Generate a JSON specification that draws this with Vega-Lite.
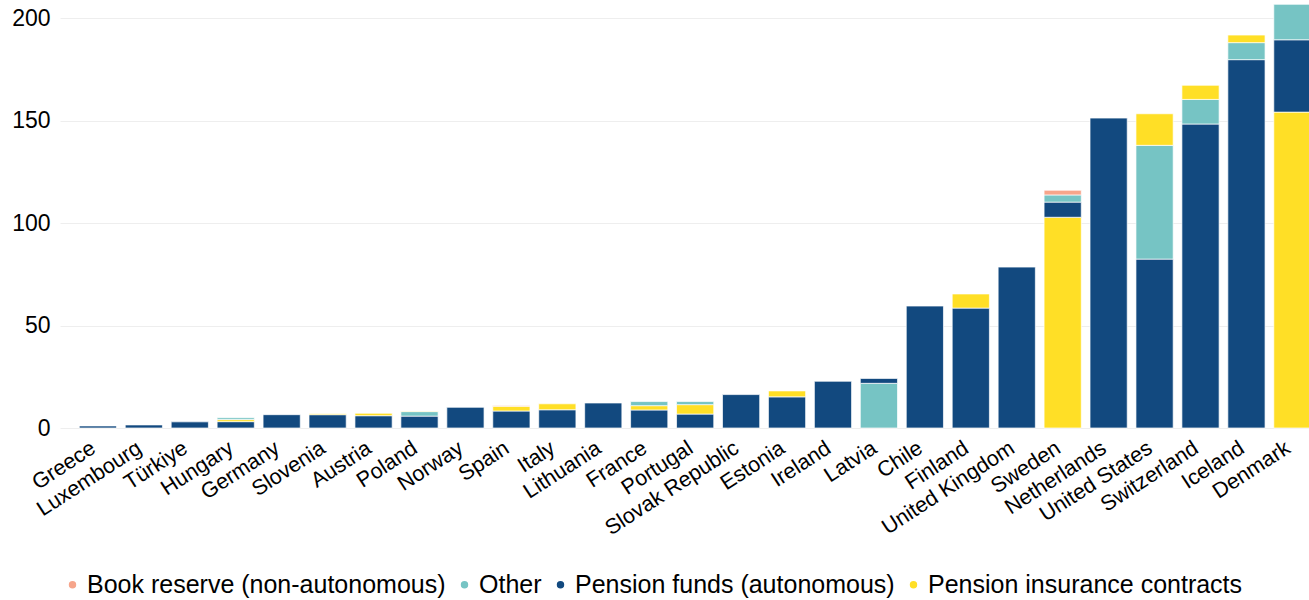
{
  "$schema": "https://vega.github.io/schema/vega-lite/v6.json",
  "width": 1251,
  "height": 428,
  "padding": {"left": 11, "top": 0, "right": 0, "bottom": 0},
  "autosize": {"type": "pad"},
  "data": {
    "values": [
      {"country": "Greece", "type": "Pension funds (autonomous)", "value": 1.0},
      {"country": "Luxembourg", "type": "Pension funds (autonomous)", "value": 1.5},
      {"country": "Türkiye", "type": "Pension funds (autonomous)", "value": 3.0},
      {"country": "Hungary", "type": "Pension funds (autonomous)", "value": 3.1},
      {"country": "Hungary", "type": "Pension insurance contracts", "value": 1.0},
      {"country": "Hungary", "type": "Other", "value": 0.9},
      {"country": "Germany", "type": "Pension funds (autonomous)", "value": 6.5},
      {"country": "Slovenia", "type": "Pension funds (autonomous)", "value": 6.5},
      {"country": "Slovenia", "type": "Pension insurance contracts", "value": 0.5},
      {"country": "Austria", "type": "Pension funds (autonomous)", "value": 6.0},
      {"country": "Austria", "type": "Pension insurance contracts", "value": 1.2},
      {"country": "Poland", "type": "Pension funds (autonomous)", "value": 5.8},
      {"country": "Poland", "type": "Other", "value": 2.2},
      {"country": "Poland", "type": "Pension insurance contracts", "value": 0.3},
      {"country": "Norway", "type": "Pension funds (autonomous)", "value": 10.1},
      {"country": "Spain", "type": "Pension funds (autonomous)", "value": 8.3},
      {"country": "Spain", "type": "Pension insurance contracts", "value": 2.3},
      {"country": "Spain", "type": "Book reserve (non-autonomous)", "value": 0.4},
      {"country": "Italy", "type": "Pension funds (autonomous)", "value": 8.9},
      {"country": "Italy", "type": "Pension insurance contracts", "value": 2.9},
      {"country": "Lithuania", "type": "Pension funds (autonomous)", "value": 12.2},
      {"country": "France", "type": "Pension funds (autonomous)", "value": 8.8},
      {"country": "France", "type": "Pension insurance contracts", "value": 2.1},
      {"country": "France", "type": "Other", "value": 2.0},
      {"country": "Portugal", "type": "Pension funds (autonomous)", "value": 6.8},
      {"country": "Portugal", "type": "Pension insurance contracts", "value": 4.6},
      {"country": "Portugal", "type": "Other", "value": 1.5},
      {"country": "Slovak Republic", "type": "Pension funds (autonomous)", "value": 16.3},
      {"country": "Estonia", "type": "Pension funds (autonomous)", "value": 15.2},
      {"country": "Estonia", "type": "Pension insurance contracts", "value": 2.9},
      {"country": "Ireland", "type": "Pension funds (autonomous)", "value": 22.8},
      {"country": "Latvia", "type": "Other", "value": 21.8},
      {"country": "Latvia", "type": "Pension funds (autonomous)", "value": 2.4},
      {"country": "Chile", "type": "Pension funds (autonomous)", "value": 59.5},
      {"country": "Finland", "type": "Pension funds (autonomous)", "value": 58.5},
      {"country": "Finland", "type": "Pension insurance contracts", "value": 6.9},
      {"country": "United Kingdom", "type": "Pension funds (autonomous)", "value": 78.5},
      {"country": "Sweden", "type": "Pension insurance contracts", "value": 102.8},
      {"country": "Sweden", "type": "Pension funds (autonomous)", "value": 7.4},
      {"country": "Sweden", "type": "Other", "value": 3.5},
      {"country": "Sweden", "type": "Book reserve (non-autonomous)", "value": 2.3},
      {"country": "Netherlands", "type": "Pension funds (autonomous)", "value": 151.2},
      {"country": "United States", "type": "Pension funds (autonomous)", "value": 82.4},
      {"country": "United States", "type": "Other", "value": 55.5},
      {"country": "United States", "type": "Pension insurance contracts", "value": 15.4},
      {"country": "Switzerland", "type": "Pension funds (autonomous)", "value": 148.3},
      {"country": "Switzerland", "type": "Other", "value": 12.0},
      {"country": "Switzerland", "type": "Pension insurance contracts", "value": 6.9},
      {"country": "Iceland", "type": "Pension funds (autonomous)", "value": 179.7},
      {"country": "Iceland", "type": "Other", "value": 8.3},
      {"country": "Iceland", "type": "Pension insurance contracts", "value": 3.7},
      {"country": "Denmark", "type": "Pension insurance contracts", "value": 154.1},
      {"country": "Denmark", "type": "Pension funds (autonomous)", "value": 35.3},
      {"country": "Denmark", "type": "Other", "value": 17.3}
    ]
  },
  "mark": {"type": "bar", "stroke": "white", "strokeWidth": 1, "strokeOpacity": 0.7},
  "encoding": {
    "x": {
      "field": "country",
      "type": "nominal",
      "sort": ["Greece", "Luxembourg", "Türkiye", "Hungary", "Germany", "Slovenia", "Austria", "Poland", "Norway", "Spain", "Italy", "Lithuania", "France", "Portugal", "Slovak Republic", "Estonia", "Ireland", "Latvia", "Chile", "Finland", "United Kingdom", "Sweden", "Netherlands", "United States", "Switzerland", "Iceland", "Denmark"],
      "scale": {"paddingInner": 0.19, "paddingOuter": 0.21, "align": 1},
      "axis": {"title": null, "labelAngle": -33, "labelFontSize": 21.5, "labelColor": "#000000", "ticks": false, "domain": false, "labelPadding": 9, "labelOffset": -10, "labelLimit": 400}
    },
    "y": {
      "field": "value",
      "type": "quantitative",
      "stack": "zero",
      "scale": {"domain": [0, 208.8], "nice": false},
      "axis": {"title": null, "values": [0, 50, 100, 150, 200], "ticks": false, "domain": false, "labelFontSize": 23, "labelPadding": 10, "gridColor": "#eeeeee", "labelColor": "#000000"}
    },
    "color": {
      "field": "type",
      "type": "nominal",
      "scale": {
        "domain": ["Book reserve (non-autonomous)", "Other", "Pension funds (autonomous)", "Pension insurance contracts"],
        "range": ["#F6A58B", "#76C4C4", "#12497F", "#FFDF26"]
      },
      "legend": {"orient": "bottom", "title": null, "direction": "horizontal", "symbolType": "circle", "symbolSize": 80, "labelFontSize": 25, "labelColor": "#000000", "columnPadding": 6, "labelOffset": 2, "offset": 33, "labelLimit": 500}
    },
    "order": {"field": "value", "type": "quantitative", "sort": "descending"}
  },
  "config": {"view": {"stroke": null}, "font": "Liberation Sans"}
}
